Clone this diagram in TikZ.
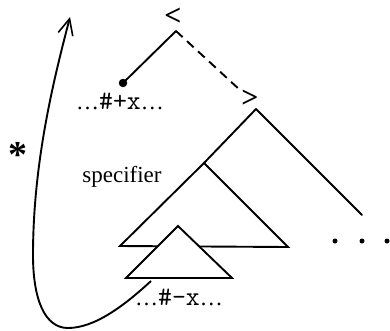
\documentclass[tikz,border=0pt]{standalone}
\usepackage{fontspec}
\setmainfont{Liberation Serif}
\usetikzlibrary{arrows.meta}
\begin{document}
\begin{tikzpicture}[x=1pt,y=-1pt,
  branch/.style={line width=1.9pt, line cap=round, line join=miter},
  dashbranch/.style={branch, line cap=butt, dash pattern=on 9pt off 6pt},
  tri/.style={line width=1.9pt, line join=miter, fill=white},
  lbl/.style={inner sep=0pt, font=\fontsize{23}{27}\selectfont},
  code/.style={font=\ttfamily\fontsize{27}{29}\selectfont},
  sym/.style={inner sep=0pt, font=\fontsize{30}{34}\selectfont\bfseries},
  movepath/.style={line width=1.9pt, -{Straight Barb[length=16pt,width=15pt,line width=1.6pt]}},
  bigdot/.style={circle, fill, inner sep=0pt, minimum size=#1}
]
\useasboundingbox (0,0) rectangle (390,330);

% upper tree
\node[sym] (lt) at (173,17) {<};
\coordinate (top) at (176,31);
\node[bigdot=8.5pt] (dot) at (123,83) {};
\node[sym] (gt) at (250,99) {>};
\coordinate (dashend) at (241,91);
\draw[branch] (top) -- (dot.center);
\draw[dashbranch] (top) -- (dashend);

% lower tree
\coordinate (apex) at (256,109);
\coordinate (rend) at (362,215);
\coordinate (bigtop) at (204,163);
\coordinate (bigl) at (120,246);
\coordinate (bigr) at (288,247);
\coordinate (smtop) at (178,226);
\coordinate (sml) at (126,278);
\coordinate (smr) at (232,278);
\draw[branch] (apex) -- (rend);
\draw[branch] (apex) -- (bigtop);
\draw[tri] (bigtop) -- (bigl) -- (bigr) -- cycle;
\draw[tri] (smtop) -- (sml) -- (smr) -- cycle;

% labels
\node[lbl, anchor=base] (plus) at (120,109) {\ldots{\ttfamily\fontsize{27}{29}\selectfont\#+x}\ldots};
\node[lbl, anchor=base] (minus) at (179,305) {\ldots{\ttfamily\fontsize{27}{29}\selectfont\#-x}\ldots};
\node[lbl, anchor=base] (spec) at (122,182) {specifier};

% dots
\node[bigdot=5pt] (d1) at (335,241) {};
\node[bigdot=5pt] (d2) at (362,241) {};
\node[bigdot=5pt] (d3) at (387,241) {};

% star
\node[inner sep=0pt, anchor=base, font=\fontsize{38}{40}\selectfont\bfseries] (star) at (18,167) {*};

% movement curve
\coordinate (cstart) at (151,281);
\coordinate (ctip) at (70,17);
\draw[movepath] (cstart) .. controls (125,305) and (95,328) .. (68,328)
  .. controls (45,328) and (33,300) .. (33,255)
  .. controls (33,160) and (55,75) .. (ctip);
\end{tikzpicture}
\end{document}
